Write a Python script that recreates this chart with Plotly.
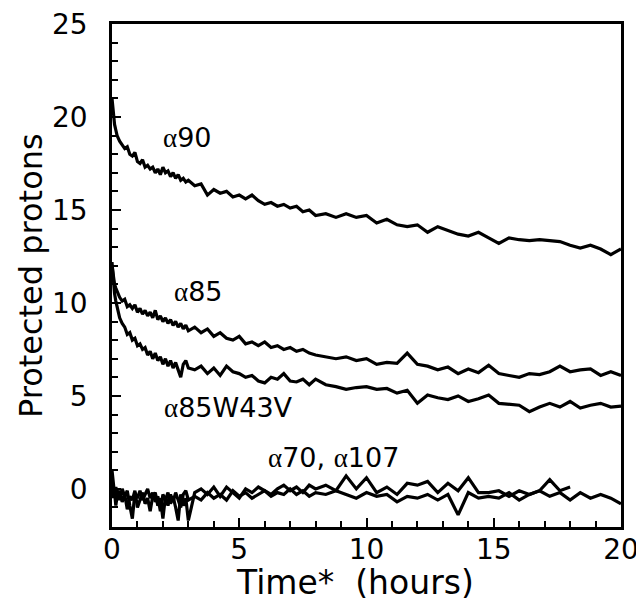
import plotly.graph_objects as go

# Time points (hours)
time_h = [0, 0.05, 0.1, 0.15, 0.2, 0.3, 0.4, 0.5, 0.6, 0.7, 0.8, 0.9, 1.0, 1.1, 1.2, 1.3, 1.4, 1.5, 1.6, 1.7,
          1.8, 1.9, 2.0, 2.1, 2.2, 2.3, 2.4, 2.5, 2.6, 2.7, 2.8, 2.9, 3.0,
          3.25, 3.5, 3.75, 4.0, 4.25, 4.5, 4.75, 5.0, 5.25, 5.5, 5.75, 6.0, 6.25, 6.5, 6.75, 7.0, 7.25, 7.5, 7.75, 8.0,
          8.4, 8.8, 9.2, 9.6, 10.0, 10.4, 10.8, 11.2, 11.6, 12.0, 12.4, 12.8, 13.2, 13.6, 14.0, 14.4, 14.8,
          15.2, 15.6, 16.0, 16.4, 16.8, 17.2, 17.6, 18.0, 18.4, 18.8, 19.2, 19.6, 20.0]

a90 = [21.0, 20.2, 19.6, 19.3, 19.0, 18.7, 18.5, 18.3, 18.4, 18.0, 17.9, 18.1, 17.6, 17.5, 17.7, 17.3, 17.4, 17.2, 17.3, 17.0,
       17.2, 16.9, 17.3, 17.0, 17.1, 16.8, 17.0, 16.7, 16.9, 16.6, 16.7, 16.5, 16.6,
       16.3, 16.4, 15.8, 16.1, 15.9, 16.0, 15.7, 15.8, 15.6, 15.8, 15.5, 15.3, 15.4, 15.2, 15.3, 15.1, 15.2, 14.9, 15.0, 14.7,
       14.8, 14.6, 14.8, 14.6, 14.7, 14.3, 14.5, 14.2, 14.1, 14.2, 13.8, 14.1, 13.9, 13.7, 13.6, 13.8, 13.5,
       13.2, 13.5, 13.4, 13.35, 13.4, 13.35, 13.3, 13.1, 12.95, 13.1, 12.9, 12.6, 12.9]

a85 = [12.0, 11.3, 11.0, 10.8, 10.6, 10.3, 10.1, 10.2, 9.8, 9.9, 9.7, 9.9, 9.5, 9.7, 9.4, 9.6, 9.3, 9.5, 9.2, 9.6,
       9.1, 9.3, 9.0, 9.2, 8.9, 9.1, 8.8, 9.0, 8.7, 8.9, 8.6, 8.8, 8.5,
       8.7, 8.4, 8.6, 8.2, 8.4, 8.1, 8.0, 8.2, 7.8, 7.9, 7.7, 7.9, 7.6, 7.7, 7.5, 7.6, 7.4, 7.5, 7.3, 7.2,
       7.1, 7.0, 7.1, 6.9, 7.0, 6.7, 6.8, 6.75, 7.3, 6.7, 6.6, 6.4, 6.55, 6.2, 6.45, 6.25, 6.65,
       6.2, 6.1, 6.0, 6.2, 6.15, 6.3, 6.6, 6.3, 6.4, 6.45, 6.1, 6.3, 6.1]

a85w43v = [12.2, 11.0, 10.5, 10.1, 9.8, 9.2, 8.9, 8.7, 8.3, 8.4, 8.0, 8.1, 7.7, 7.8, 7.5, 7.6, 7.2, 7.4, 7.0, 7.3,
           6.9, 7.1, 6.7, 7.0, 6.6, 6.9, 6.5, 6.8, 6.4, 6.0, 6.7, 6.9, 6.5,
           6.4, 6.6, 6.2, 6.5, 6.1, 6.6, 6.3, 6.2, 6.0, 6.1, 5.8, 5.7, 6.0, 5.9, 6.2, 5.8, 5.75, 5.9, 5.6, 5.9,
           5.6, 5.5, 5.35, 5.45, 5.5, 5.35, 5.4, 5.15, 5.3, 4.6, 5.05, 4.9, 4.8, 5.0, 4.7, 4.85, 5.05,
           4.6, 4.55, 4.5, 4.15, 4.4, 4.6, 4.4, 4.7, 4.35, 4.5, 4.6, 4.4, 4.45]

a70 = [1.0, 0.2, -0.3, 0.1, -0.2, -0.6, 0.0, -0.4, -0.1, -0.9, -1.6, -0.2, -0.5, -0.1, -0.6, -0.3, 0.0, -0.5, -0.2, -0.7,
       -0.4, -1.2, -0.3, -0.6, -0.2, -0.8, -0.4, -1.0, -1.7, -0.3, -0.9, -0.5, -1.7,
       -0.2, 0.0, -0.3, 0.1, -0.4, 0.1, -0.2, -0.5, 0.0, -0.2, 0.1, -0.1, -0.3, 0.0, 0.2, -0.1, 0.1, -0.2, 0.2, 0.0,
       0.2, -0.1, 0.7, 0.0, 0.6, -0.2, 0.1, -0.3, 0.3, 0.2, 0.4, -0.2, 0.3, -0.1, 0.6, -0.2, -0.2,
       -0.1, -0.4, -0.1, -0.3, -0.1, 0.5, -0.1, 0.1]

a107 = [0.3, -0.5, -0.2, -0.9, -0.4, -0.1, -0.7, -0.3, -1.1, -0.4, -0.6, -0.1, -1.0, -0.6, -0.2, -0.8, -0.5, -1.2, -0.4, -0.2,
        -0.9, -0.5, -1.6, -0.4, -0.9, -0.3, -0.7, -0.2, -0.6, -1.0, -0.3, -0.1, -0.6,
        -0.4, -0.6, -0.2, -0.5, -0.3, -0.6, -0.1, -0.4, -0.2, -0.5, -0.3, -0.1, -0.4, -0.2, -0.3, 0.0, -0.3, -0.1, -0.4, -0.2,
        -0.3, -0.1, -0.3, -0.5, -0.2, -0.4, -0.3, -0.7, -0.4, -0.5, -0.3, -0.6, -0.3, -1.4, -0.2, -0.5, -0.4,
        -0.5, -0.2, -0.6, -0.3, -0.1, -0.4, -0.2, -0.6, -0.2, -0.5, -0.3, -0.5, -0.8]

assert len(a90) == len(time_h), len(a90)
assert len(a85) == len(time_h), len(a85)
assert len(a85w43v) == len(time_h), len(a85w43v)
assert len(a107) == len(time_h), len(a107)

labels = ["α90", "α85", "α85W43V", "α70, α107"]
label_x = [2.95, 3.38, 4.56, 8.72]
label_y = [18.9, 10.6, 4.35, 1.67]

x_ticks = [0, 5, 10, 15, 20]
y_ticks = [0, 5, 10, 15, 20, 25]
x_title = "Time*  (hours)"
y_title = "Protected protons"

FONT = "DejaVu Sans"

fig = go.Figure()
line = dict(color="black", width=3.2)
for ys in (a90, a85, a85w43v, a107):
    fig.add_trace(go.Scatter(x=time_h, y=ys, mode="lines", line=line, showlegend=False))
fig.add_trace(go.Scatter(x=time_h[:len(a70)], y=a70, mode="lines", line=line, showlegend=False))

for t, x, y in zip(labels, label_x, label_y):
    txt = t.replace("α", '<span style="font-family:Liberation Serif">α</span>')
    fig.add_annotation(x=x, y=y, text=txt, showarrow=False,
                       font=dict(family=FONT, size=27, color="black"))

# axis titles
fig.add_annotation(xref="paper", yref="paper", x=0.477, y=-0.111, text=x_title, showarrow=False,
                   xanchor="center", yanchor="middle", font=dict(family=FONT, size=33, color="black"))
fig.add_annotation(xref="paper", yref="paper", x=-0.160, y=0.5, text=y_title, showarrow=False, textangle=-90,
                   xanchor="center", yanchor="middle", font=dict(family=FONT, size=32, color="black"))

axis_common = dict(showline=True, linewidth=2.5, linecolor="black", mirror=True,
                   ticks="inside", ticklen=9, tickwidth=2, tickcolor="black",
                   showgrid=False, zeroline=False, automargin=False, ticklabeloverflow="allow",
                   tickfont=dict(family=FONT, size=28, color="black"),
                   minor=dict(ticks="inside", ticklen=6, tickwidth=2, tickcolor="black", dtick=1, showgrid=False))

fig.update_xaxes(range=[0, 20], tickvals=x_ticks, ticklabelstandoff=-4, **axis_common)
fig.update_yaxes(range=[-2.05, 25], tickvals=y_ticks, ticklabelstandoff=16, **axis_common)

# page body has an 8px margin; figure sized so that the plot area lands at x 112-621, y 24-527
fig.update_layout(width=636, height=600, margin=dict(l=104, r=23, t=16, b=81),
                  plot_bgcolor="white", paper_bgcolor="white")

fig.write_html("out.html")
